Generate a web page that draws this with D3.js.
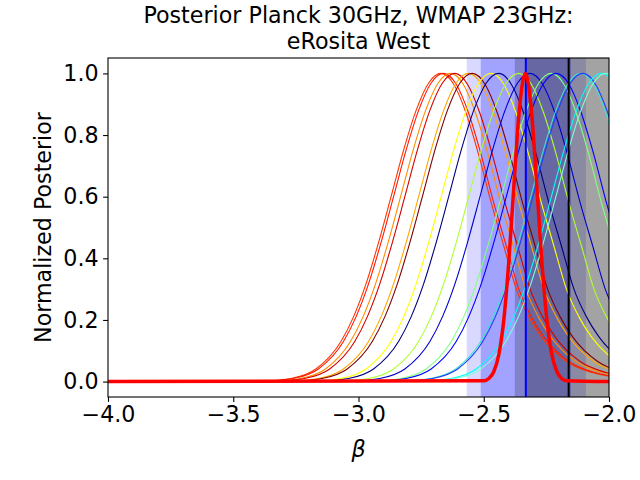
<!DOCTYPE html>
<html>
<head>
    <meta charset="utf-8">
    <title>Posterior Planck 30GHz, WMAP 23GHz</title>
    <style>
        body { margin: 0; background: #fff; }
        text { font-family: "DejaVu Sans", sans-serif; }
    </style>
</head>
<body>
    <script src="https://cdn.jsdelivr.net/npm/d3@7"></script>
    <script>
        // peak position of every thin posterior, in plotting order
        var curvePeaks = [-2.670, -2.660, -2.632, -2.615, -2.560, -2.545, -2.470, -2.440,
                          -2.360, -2.315, -2.230, -2.210, -2.112, -2.104, -2.030, -2.012];
        var curveColors = ["#ff3300", "#ff1a00", "#ff8c00", "#d40000", "#ffa500", "#800000",
                           "#ffff00", "#000080", "#adff2f", "#0000cd", "#80ff80", "#0000ff",
                           "#40e0d0", "#1e3cff", "#00ffff", "#7fffd4"];

        // shared shape of the thin curves: offset from peak (beta) -> normalized posterior
        var profileOffset = [-0.70, -0.60, -0.50, -0.40, -0.35, -0.30, -0.25, -0.20, -0.15, -0.10, -0.05, 0,
                             0.05, 0.10, 0.15, 0.20, 0.25, 0.30, 0.35, 0.40, 0.50, 0.60, 0.70, 0.80, 0.90, 1.00];
        var profileValue  = [0.002, 0.010, 0.041, 0.130, 0.210, 0.317, 0.451, 0.600, 0.751, 0.880, 0.969, 1,
                             0.965, 0.870, 0.735, 0.580, 0.440, 0.300, 0.210, 0.145, 0.065, 0.030, 0.014, 0.006, 0.002, 0];

        // combined posterior (thick red)
        var combinedBeta  = [-4.0, -2.50, -2.48, -2.46, -2.44, -2.42, -2.40, -2.38, -2.36, -2.334,
                             -2.31, -2.29, -2.27, -2.25, -2.23, -2.21, -2.19, -2.17, -2.0];
        var combinedValue = [0, 0.0025, 0.010, 0.032, 0.087, 0.200, 0.389, 0.632, 0.863, 1,
                             0.882, 0.657, 0.411, 0.216, 0.095, 0.036, 0.011, 0.003, 0];

        var blueMean = -2.332;
        var blueBands = [[-2.568, -2.092], [-2.512, -2.152]];
        var blackMean = -2.161;
        var blackBands = [[-2.376, -1.946], [-2.332, -1.990]];

        var xTicks = [-4.0, -3.5, -3.0, -2.5, -2.0];
        var yTicks = [0.0, 0.2, 0.4, 0.6, 0.8, 1.0];
        var titleLines = ["Posterior Planck 30GHz, WMAP 23GHz:", "eRosita West"];

        var W = 640, H = 480;
        var margin = {top: 58, right: 31, bottom: 83, left: 108};
        var width = W - margin.left - margin.right,
            height = H - margin.top - margin.bottom;
        var fontSize = "22.2px";

        var x = d3.scaleLinear().domain([-4, -2]).range([0, width]);
        var y = d3.scaleLinear().domain([-0.05, 1.05]).range([height, 0]);

        var svg = d3.select("body").append("svg")
            .attr("width", W)
            .attr("height", H);

        svg.append("defs").append("clipPath")
            .attr("id", "plot-clip")
            .append("rect")
            .attr("width", width)
            .attr("height", height);

        var g = svg.append("g")
            .attr("transform", "translate(" + margin.left + "," + margin.top + ")");

        var plot = g.append("g").attr("clip-path", "url(#plot-clip)");

        // shaded intervals
        plot.selectAll("rect.blue-band")
            .data(blueBands)
            .enter().append("rect")
            .attr("class", "blue-band")
            .attr("x", function(d) { return x(d[0]); })
            .attr("width", function(d) { return x(d[1]) - x(d[0]); })
            .attr("y", 0)
            .attr("height", height)
            .attr("fill", "blue")
            .attr("fill-opacity", function(d, i) { return i == 0 ? 0.15 : 0.25; });

        plot.selectAll("rect.black-band")
            .data(blackBands)
            .enter().append("rect")
            .attr("class", "black-band")
            .attr("x", function(d) { return x(d[0]); })
            .attr("width", function(d) { return x(d[1]) - x(d[0]); })
            .attr("y", 0)
            .attr("height", height)
            .attr("fill", "black")
            .attr("fill-opacity", 0.2);

        var line = d3.line()
            .x(function(d) { return x(d[0]); })
            .y(function(d) { return y(d[1]); })
            .curve(d3.curveMonotoneX);

        var curves = curvePeaks.map(function(mu, i) {
            var pts = [[-4, 0]];
            profileOffset.forEach(function(o, j) { pts.push([mu + o, profileValue[j]]); });
            pts.push([-1.0, 0]);
            return {color: curveColors[i], pts: pts};
        });

        plot.selectAll("path.post")
            .data(curves)
            .enter().append("path")
            .attr("class", "post")
            .attr("d", function(d) { return line(d.pts); })
            .attr("fill", "none")
            .attr("stroke", function(d) { return d.color; })
            .attr("stroke-width", 1.1);

        // means
        plot.append("line")
            .attr("x1", x(blueMean)).attr("x2", x(blueMean))
            .attr("y1", 0).attr("y2", height)
            .attr("stroke", "blue")
            .attr("stroke-width", 2);

        plot.append("line")
            .attr("x1", x(blackMean)).attr("x2", x(blackMean))
            .attr("y1", 0).attr("y2", height)
            .attr("stroke", "black")
            .attr("stroke-width", 2);

        plot.append("path")
            .datum(d3.zip(combinedBeta, combinedValue))
            .attr("d", line)
            .attr("fill", "none")
            .attr("stroke", "red")
            .attr("stroke-width", 3.5);

        // axes
        var xAxis = d3.axisBottom(x)
            .tickValues(xTicks)
            .tickFormat(d3.format(".1f"))
            .tickSize(4.9)
            .tickPadding(4.5);

        var yAxis = d3.axisLeft(y)
            .tickValues(yTicks)
            .tickFormat(d3.format(".1f"))
            .tickSize(4.9)
            .tickPadding(4.5);

        var gx = g.append("g")
            .attr("transform", "translate(0," + height + ")")
            .call(xAxis);
        var gy = g.append("g").call(yAxis);

        [gx, gy].forEach(function(a) {
            a.select(".domain").remove();
            a.selectAll(".tick line").attr("stroke", "black").attr("stroke-width", 1.1);
            a.selectAll(".tick text")
                .attr("fill", "black")
                .style("font-size", fontSize)
                .style("font-family", "DejaVu Sans");
        });

        g.append("rect")
            .attr("width", width)
            .attr("height", height)
            .attr("fill", "none")
            .attr("stroke", "black")
            .attr("stroke-width", 1.1);

        // labels
        svg.append("text")
            .attr("x", margin.left + width / 2)
            .attr("y", 22.5)
            .attr("text-anchor", "middle")
            .style("font-size", fontSize)
            .selectAll("tspan")
            .data(titleLines)
            .enter().append("tspan")
            .attr("x", margin.left + width / 2)
            .attr("dy", function(d, i) { return i == 0 ? 0 : 26.5; })
            .text(function(d) { return d; });

        svg.append("text")
            .attr("x", margin.left + width / 2)
            .attr("y", 457)
            .attr("text-anchor", "middle")
            .style("font-size", fontSize)
            .style("font-style", "italic")
            .text("β");

        svg.append("text")
            .attr("transform", "translate(51," + (margin.top + height / 2) + ") rotate(-90)")
            .attr("text-anchor", "middle")
            .style("font-size", fontSize)
            .text("Normalized Posterior");
    </script>
</body>
</html>
